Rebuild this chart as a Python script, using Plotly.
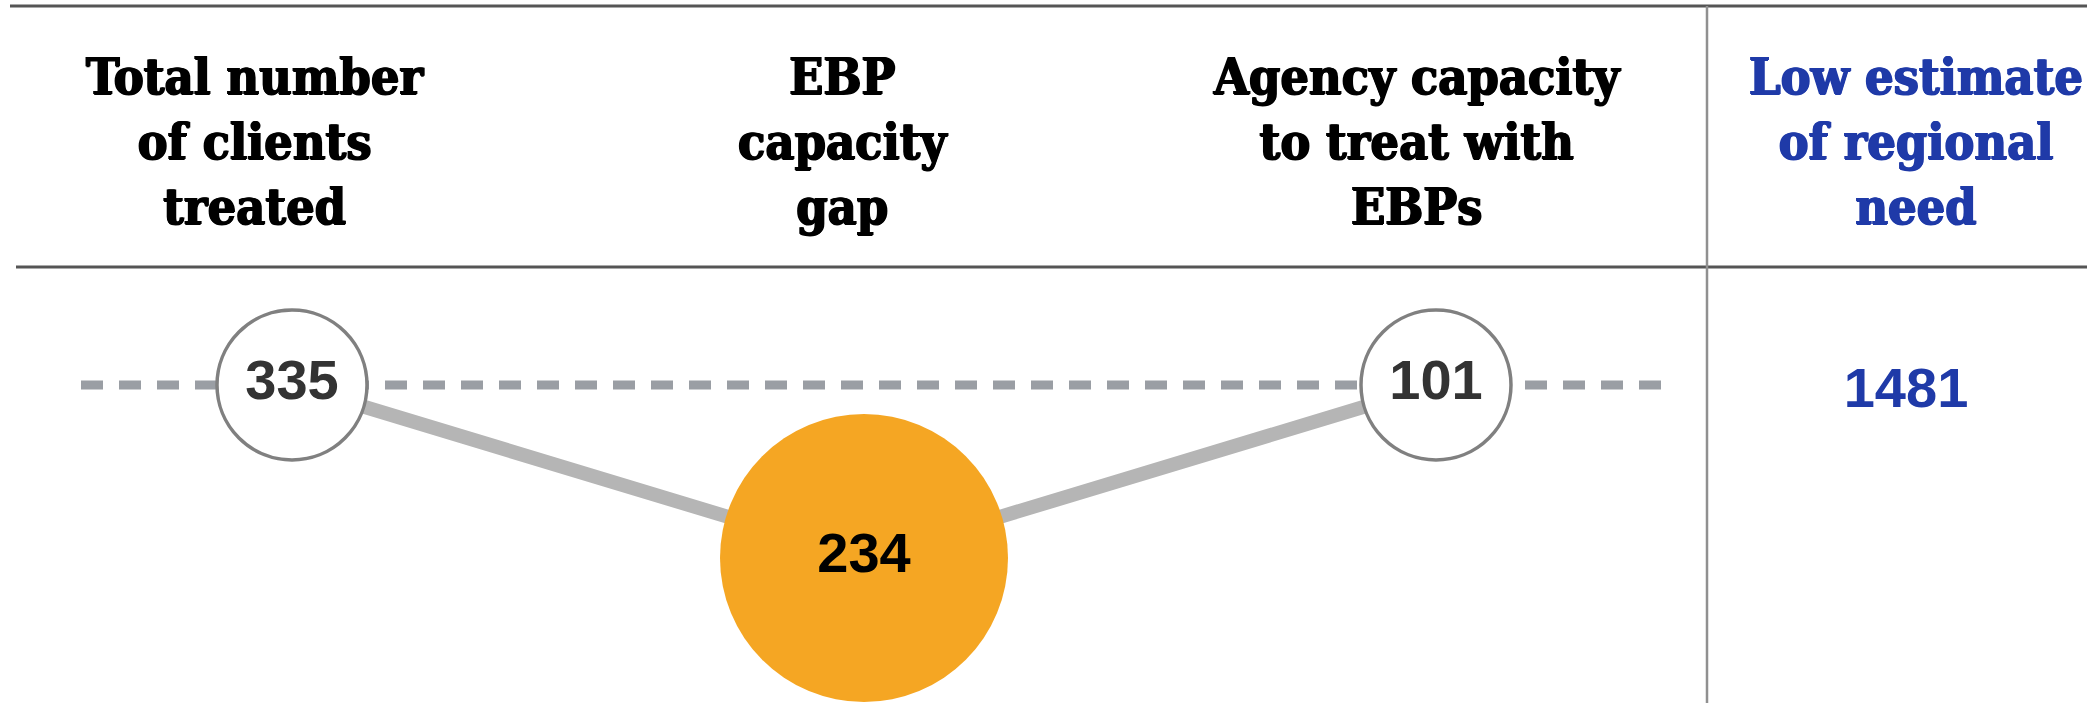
import plotly.graph_objects as go

# ---- data ----
categories = ["Total number of clients treated", "EBP capacity gap", "Agency capacity to treat with EBPs"]
header_labels = ["Total number<br>of clients<br>treated", "EBP<br>capacity<br>gap", "Agency capacity<br>to treat with<br>EBPs"]
values = [335, 234, 101]
rows = ["baseline", "gap", "baseline"]
need_category = "Low estimate of regional need"
need_label = "Low estimate<br>of regional<br>need"
need_value = 1481

row_order = ["baseline", "gap"]

W, H = 2087, 703
split = 1707 / W

BLUE = "#1f3aa8"
ORANGE = "#f5a623"
HEADER_FONT = "DejaVu Serif Condensed, DejaVu Serif, serif"
NUM_FONT = "Liberation Sans, Arial, sans-serif"


def thick(c):
    return f"0.9px 0 0 {c}, -0.9px 0 0 {c}, 0 0.9px 0 {c}"


fig = go.Figure()

# connector line
fig.add_trace(go.Scatter(
    x=categories, y=rows, mode="lines",
    line=dict(color="#b5b5b5", width=14),
    hoverinfo="skip", showlegend=False,
))

# circles
fig.add_trace(go.Scatter(
    x=categories, y=rows, mode="markers+text",
    text=[str(v) for v in values], textposition="middle center",
    textfont=dict(family=NUM_FONT, size=56, color=["#333333", "#000000", "#333333"], weight="bold"),
    marker=dict(size=[150, 288, 150],
                color=["white", ORANGE, "white"],
                line=dict(color=["#808080", ORANGE, "#808080"], width=[3.5, 0, 3.5]),
                opacity=1),
    hoverinfo="skip", showlegend=False,
))

# right panel value
fig.add_trace(go.Scatter(
    x=[need_category], y=["baseline"], xaxis="x2", yaxis="y2",
    mode="text", text=[str(need_value)], textposition="middle center",
    textfont=dict(family=NUM_FONT, size=56, color=BLUE, weight="bold"),
    hoverinfo="skip", showlegend=False,
))

annotations = []
hdr_shift = [-37, -21, -19]
for c, lab, s in zip(categories, header_labels, hdr_shift):
    annotations.append(dict(
        x=c, xref="x", y=1 - 141 / H, yref="paper", text=lab, showarrow=False,
        xanchor="center", yanchor="middle", xshift=s, align="center",
        font=dict(family=HEADER_FONT, size=50, color="#000000", weight="bold", shadow=thick("#000000")),
    ))
annotations.append(dict(
    x=need_category, xref="x2", y=1 - 141 / H, yref="paper", text=need_label, showarrow=False,
    xanchor="center", yanchor="middle", xshift=10, align="center",
    font=dict(family=HEADER_FONT, size=50, color=BLUE, weight="bold", shadow=thick(BLUE)),
))

base_idx = row_order.index("baseline")
shapes = [
    # dashed baseline
    dict(type="line", xref="paper", yref="y", x0=81 / W, x1=1676 / W, y0=base_idx, y1=base_idx,
         line=dict(color="#9a9ea4", width=9, dash="22px,16px"), layer="below"),
    # top rule
    dict(type="line", xref="paper", yref="paper", x0=10 / W, x1=1, y0=1 - 6 / H, y1=1 - 6 / H,
         line=dict(color="#555555", width=3)),
    # header bottom rule
    dict(type="line", xref="paper", yref="paper", x0=16 / W, x1=1, y0=1 - 267 / H, y1=1 - 267 / H,
         line=dict(color="#555555", width=3)),
    # vertical divider
    dict(type="line", xref="paper", yref="paper", x0=split, x1=split, y0=0, y1=1 - 6 / H,
         line=dict(color="#909090", width=2.5)),
]

x2_off = 9 / 380
fig.update_layout(
    width=W, height=H,
    margin=dict(l=0, r=0, t=0, b=0),
    paper_bgcolor="white", plot_bgcolor="white",
    xaxis=dict(type="category", categoryarray=categories, domain=[0, split],
               range=[-0.5105, 2.4738], visible=False, fixedrange=True),
    xaxis2=dict(type="category", categoryarray=[need_category], domain=[split, 1],
                range=[-0.5 - x2_off, 0.5 - x2_off], anchor="y2", visible=False, fixedrange=True),
    yaxis=dict(type="category", categoryarray=row_order, range=[1.8382, -2.2254],
               visible=False, fixedrange=True),
    yaxis2=dict(type="category", categoryarray=row_order, range=[1.7904, -2.2732],
                anchor="x2", overlaying="y", visible=False, fixedrange=True),
    annotations=annotations,
    shapes=shapes,
    showlegend=False,
)

fig.write_html("out.html", config={"displayModeBar": False},
               post_script="document.body.style.margin='0';document.body.style.overflow='hidden';")
